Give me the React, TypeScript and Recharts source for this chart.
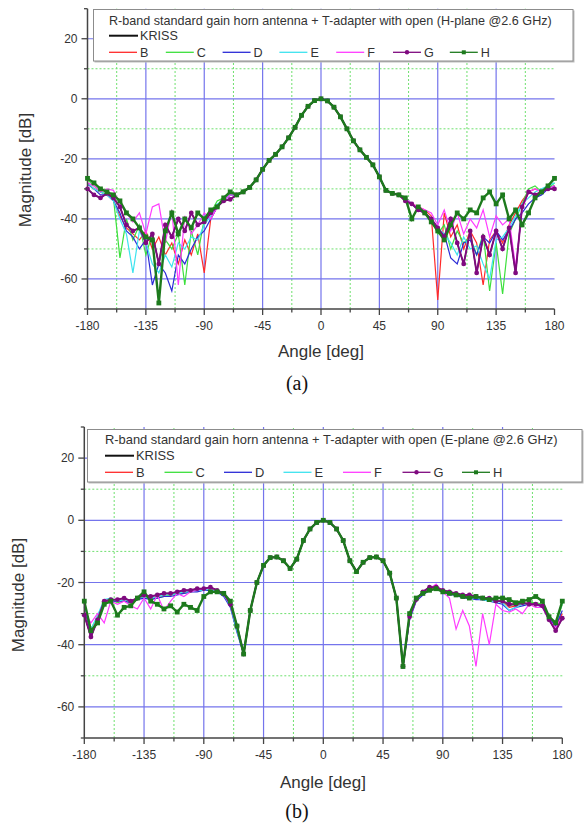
import React from 'react';
import { LineChart, Line, XAxis, YAxis, ReferenceLine } from 'recharts';

// angle axis, 5 degree steps
const angles = [
  -180, -175, -170, -165, -160, -155, -150, -145, -140, -135, -130, -125, -120, -115, -110, -105, -100, -95, -90,
  -85, -80, -75, -70, -65, -60, -55, -50, -45, -40, -35, -30, -25, -20, -15, -10, -5, 0, 5, 10, 15, 20, 25, 30,
  35, 40, 45, 50, 55, 60, 65, 70, 75, 80, 85, 90, 95, 100, 105, 110, 115, 120, 125, 130, 135, 140, 145, 150, 155,
  160, 165, 170, 175, 180,
];

const seriesNames = ['KRISS', 'B', 'C', 'D', 'E', 'F', 'G', 'H'];
const seriesColors = ['#000000', '#ff2a2a', '#3ce03c', '#2b2bd6', '#3ee3ef', '#ff3cff', '#7f0a7f', '#1d7a1d'];

const xTicks = [-180, -157.5, -135, -112.5, -90, -67.5, -45, -22.5, 0, 22.5, 45, 67.5, 90, 112.5, 135, 157.5, 180];
const yTicks = [-70, -60, -50, -40, -30, -20, -10, 0, 10, 20, 30];

// ---- (a) H-plane ----
// main lobe, -55..55 (all measurements overlap here)
const hMain = [-29.5, -27, -23.5, -20.5, -18.5, -16, -13, -9.5, -5.5, -2.5, -0.6, 0, -0.7, -2.8, -6, -10, -14, -17, -19.5, -22, -26, -30.5, -31.5];
// -180..-60
const hKrissLeft = [-30, -32, -33, -31.5, -33, -36, -42, -44, -43, -48, -45, -55, -42, -46, -40, -44, -38, -42, -41, -38, -36, -34, -33.5, -32, -31];
const hBLeft = [-28, -30, -31, -32, -34, -39, -43, -45, -47, -44, -50, -46, -52, -48, -55, -47, -52, -45, -58, -40, -36, -34, -32, -32, -31];
const hCLeft = [-27, -29, -31, -32, -33, -53, -40, -47, -42, -52, -45, -55, -47, -50, -45, -62, -44, -52, -40, -38, -34, -33, -31.5, -32, -30.5];
const hDLeft = [-28.5, -30, -32, -32, -34, -38, -44, -46, -50, -47, -62, -55, -58, -64, -52, -55, -50, -46, -44, -40, -36, -34, -32, -32, -31];
const hELeft = [-28, -30, -31, -32, -34, -40, -45, -58, -44, -48, -55, -58, -52, -56, -48, -50, -46, -47, -42, -39, -35, -34, -32, -32, -31];
const hFLeft = [-28, -29, -31, -30, -30.5, -35, -38, -41, -38, -45, -36, -35, -48, -37, -62, -39, -45, -42, -38, -40, -36, -34, -32, -32, -31];
const hGLeft = [-30, -32, -33, -31.5, -33, -36, -42, -44, -43, -48, -45, -55, -42, -46, -40, -44, -38, -42, -41, -38, -36, -34, -33.5, -32, -31];
const hHLeft = [-26.5, -28, -30, -31, -32, -34, -38, -40, -43, -46, -47, -68, -44, -38, -45, -40, -43, -38, -40, -37, -36, -33, -31, -32, -31];
// 60..180
const hKrissRight = [-32, -34, -35, -37, -38, -40, -43, -46, -40, -48, -55, -44, -58, -46, -52, -44, -50, -43, -58, -36, -31, -32, -31, -30, -30];
const hBRight = [-32, -33, -35, -36, -37, -39, -67, -38, -46, -42, -50, -44, -48, -62, -47, -44, -48, -42, -38, -34, -31, -30, -31, -30, -29];
const hCRight = [-32, -33, -35, -37, -38, -40, -45, -42, -50, -44, -48, -46, -52, -45, -64, -48, -65, -45, -40, -35, -30, -29, -31, -30, -28];
const hDRight = [-32, -33, -35, -37, -38, -40, -44, -45, -53, -55, -48, -47, -52, -46, -48, -44, -47, -44, -40, -38, -35, -33, -32, -30, -29];
const hERight = [-32, -33, -35, -37, -38, -40, -43, -45, -48, -52, -46, -50, -49, -55, -60, -47, -46, -43, -39, -35, -33, -31, -30, -29, -28];
const hFRight = [-32, -33, -35, -36, -37, -38, -42, -37, -44, -38, -45, -40, -43, -37, -46, -39, -42, -40, -56, -37, -31, -30, -31, -30, -29];
const hGRight = [-32, -34, -35, -37, -38, -40, -43, -46, -40, -48, -55, -44, -58, -46, -52, -44, -50, -43, -58, -36, -31, -32, -31, -30, -30];
const hHRight = [-32, -33, -40, -36, -38, -41, -44, -47, -42, -38, -40, -37, -38, -33, -31, -35, -32, -40, -37, -42, -38, -33, -31, -29, -26.5];

// ---- (b) E-plane ----
// main lobe + first sidelobes, -60..60
const eMain = [-43, -29, -20, -14.5, -12, -11.8, -13, -15.5, -12.5, -6.5, -2.8, -0.7, 0, -0.7, -2.8, -6.5, -13, -16.5, -13.5, -12, -11.8, -13, -17, -25, -47];
// -180..-65
const eKrissLeft = [-30.5, -37.5, -32, -26, -25.5, -25.5, -25, -26, -25, -24, -24.5, -24, -23.5, -23.5, -23, -22.5, -22.5, -22, -22, -21.5, -22.5, -23.5, -27, -34];
const eBLeft = [-29, -36, -31, -26.5, -25.5, -26, -25.5, -26, -25, -24.5, -25, -24.5, -24, -24, -23.5, -23, -23, -22.5, -22.5, -22, -23, -24, -27.5, -35];
const eCLeft = [-27, -35, -31, -26, -25.5, -26.5, -26, -26.5, -25.5, -24.5, -25, -25, -24.5, -24, -23.5, -23.5, -23, -22.5, -22.5, -22, -22.5, -24, -27, -34.5];
const eDLeft = [-28, -36.5, -32, -27, -26, -26, -26, -26.5, -25.5, -25, -25.5, -25, -24.5, -24.5, -24, -23.5, -23, -23, -22.5, -22.5, -23, -24.5, -28, -36];
const eELeft = [-27.5, -35, -30.5, -25.5, -25, -26, -25.5, -26, -25, -24.5, -25, -24.5, -24, -24, -23.5, -23, -23, -22.5, -22.5, -22, -23, -24, -27.5, -35.5];
const eFLeft = [-29, -33, -30, -33, -26, -27, -26, -27.5, -28.5, -25, -28.5, -24, -29, -26, -23.5, -24.5, -23, -22.5, -22, -22, -22.5, -24, -27, -34];
const eGLeft = [-30.5, -37.5, -32, -26, -25.5, -25.5, -25, -26, -25, -24, -24.5, -24, -23.5, -23.5, -23, -22.5, -22.5, -22, -22, -21.5, -22.5, -23.5, -27, -34];
const eHLeft = [-26, -35.5, -33, -27, -26, -30.5, -28, -27.5, -25, -23, -26, -27, -28.5, -27.5, -29.5, -27, -28, -29, -24.5, -23, -23, -23.5, -26, -34];
// 65..180
const eKrissRight = [-31, -25.5, -23, -21.5, -21.5, -22.5, -23, -23.5, -24, -24, -24.5, -25, -25, -26, -26, -27, -27, -26.5, -27, -27, -27.5, -32, -35.5, -31.5];
const eBRight = [-31, -25.5, -23.5, -22, -22, -23, -23.5, -24, -24.5, -24.5, -25, -25, -25.5, -26, -26, -28, -27.5, -27, -26.5, -27, -27.5, -31, -34, -30];
const eCRight = [-30.5, -25, -23.5, -22.5, -22, -23, -23.5, -24, -24.5, -25, -25, -25.5, -25.5, -26, -26, -27.5, -27, -27, -26.5, -26.5, -27, -31, -33.5, -27];
const eDRight = [-32, -26, -24, -22.5, -22, -23, -24, -24, -25, -25, -25.5, -25.5, -26, -26.5, -27, -29, -28, -27.5, -27, -27, -28, -31.5, -34, -29];
const eERight = [-31.5, -25.5, -23.5, -22.5, -22, -23, -23.5, -24, -24.5, -25, -25, -25.5, -26, -26, -26.5, -29, -28, -27, -27, -27, -27.5, -31, -33, -26.5];
const eFRight = [-31, -25.5, -23.5, -22, -20.5, -23, -25, -35, -29, -34, -47, -30, -40, -27, -29, -29.5, -28.5, -30, -27, -28, -28, -32, -34.5, -31];
const eGRight = [-31, -25.5, -23, -21.5, -21.5, -22.5, -23, -23.5, -24, -24, -24.5, -25, -25, -26, -26, -27, -27, -26.5, -27, -27, -27.5, -32, -35.5, -31.5];
const eHRight = [-30, -25, -23.5, -22.5, -22, -23, -23.5, -24, -24.5, -25, -24.5, -25, -25.5, -25, -25, -25.5, -26.5, -26, -25.5, -24.5, -26, -31, -33, -26];

const buildRows = (main: number[], sides: number[][][]) => {
  const full = sides.map(([l, r]) => [...l, ...main, ...r]);
  return angles.map((a, i) => {
    const row: Record<string, number> = { angle: a };
    seriesNames.forEach((n, s) => { row[n] = full[s][i]; });
    return row;
  });
};

const hRows = buildRows(hMain, [
  [hKrissLeft, hKrissRight], [hBLeft, hBRight], [hCLeft, hCRight], [hDLeft, hDRight],
  [hELeft, hERight], [hFLeft, hFRight], [hGLeft, hGRight], [hHLeft, hHRight],
]);
const eRows = buildRows(eMain, [
  [eKrissLeft, eKrissRight], [eBLeft, eBRight], [eCLeft, eCRight], [eDLeft, eDRight],
  [eELeft, eERight], [eFLeft, eFRight], [eGLeft, eGRight], [eHLeft, eHRight],
]);

const SANS = '"Liberation Sans", Arial, sans-serif';
const AXIS = '#444';
const BLUE = '#7474ec';
const GREEN = '#6ee06e';

const squareDot = (p: any) => (
  <rect key={`sq-${p.index}`} x={p.cx - 2.4} y={p.cy - 2.4} width={4.8} height={4.8} fill="#1d7a1d" />
);

const Panel = ({ rows, cfg }: { rows: any[]; cfg: any }) => {
  const yAxisW = 60;
  const xAxisH = 30;
  const localBottom = cfg.plotBottom - cfg.chartTop;
  const margin = {
    top: cfg.plotTop - cfg.chartTop,
    left: cfg.plotLeft - yAxisW,
    right: 584 - cfg.plotRight,
    bottom: cfg.chartHeight - localBottom - xAxisH,
  };
  const plotLeft = cfg.plotLeft;

  const XTick = (props: any) => {
    const { x, payload } = props;
    const v = payload.value;
    const major = v % 45 === 0;
    return (
      <g>
        <line x1={x} x2={x} y1={localBottom} y2={localBottom + (major ? 6 : 3.5)} stroke={AXIS} strokeWidth={1.3} />
        {major && (
          <text x={x} y={localBottom + 21} textAnchor="middle" fontSize={12} fill="#333" fontFamily={SANS}>{v}</text>
        )}
      </g>
    );
  };
  const YTick = (props: any) => {
    const { y, payload } = props;
    const v = payload.value;
    const major = v % 20 === 0;
    return (
      <g>
        <line x1={plotLeft - (major ? 6 : 3.5)} x2={plotLeft} y1={y} y2={y} stroke={AXIS} strokeWidth={1.3} />
        {major && (
          <text x={plotLeft - 10} y={y + 4} textAnchor="end" fontSize={12} fill="#333" fontFamily={SANS}>{v}</text>
        )}
      </g>
    );
  };

  const lg = cfg.legend;
  return (
    <>
      <div style={{ position: 'absolute', left: 0, top: cfg.chartTop }}>
        <LineChart width={584} height={cfg.chartHeight} data={rows} margin={margin}>
          {[-157.5, -112.5, -67.5, -22.5, 22.5, 67.5, 112.5, 157.5].map((v) => (
            <ReferenceLine key={`mx${v}`} x={v} stroke={GREEN} strokeDasharray="2 2" strokeWidth={1} />
          ))}
          {[10, -10, -30, -50].map((v) => (
            <ReferenceLine key={`my${v}`} y={v} stroke={GREEN} strokeDasharray="2 2" strokeWidth={1} />
          ))}
          {[-135, -90, -45, 0, 45, 90, 135].map((v) => (
            <ReferenceLine key={`gx${v}`} x={v} stroke={BLUE} strokeWidth={1.2} />
          ))}
          {[20, 0, -20, -40, -60].map((v) => (
            <ReferenceLine key={`gy${v}`} y={v} stroke={BLUE} strokeWidth={1.2} />
          ))}
          <XAxis
            dataKey="angle"
            type="number"
            domain={[-180, 180]}
            ticks={xTicks}
            interval={0}
            height={xAxisH}
            tickLine={false}
            axisLine={{ stroke: AXIS, strokeWidth: 1.5 }}
            tick={<XTick />}
          />
          <YAxis
            type="number"
            domain={[-70, 30]}
            ticks={yTicks}
            interval={0}
            width={yAxisW}
            tickLine={false}
            axisLine={{ stroke: AXIS, strokeWidth: 1.5 }}
            tick={<YTick />}
          />
          {seriesNames.map((n, i) => (
            <Line
              key={n}
              dataKey={n}
              type="linear"
              stroke={seriesColors[i]}
              strokeWidth={n === 'H' ? 2.4 : n === 'G' ? 1.9 : 1.2}
              dot={n === 'G' ? { r: 2.4, fill: seriesColors[i], stroke: 'none' } : n === 'H' ? squareDot : false}
              isAnimationActive={false}
            />
          ))}
        </LineChart>
      </div>
      <svg
        style={{ position: 'absolute', left: lg.x, top: lg.y, overflow: 'visible' }}
        width={lg.w}
        height={lg.h}
      >
        <rect x={1.5} y={1.5} width={lg.w - 1} height={lg.h - 1} fill="#bdbdbd" />
        <rect x={0.5} y={0.5} width={lg.w - 1.5} height={lg.h - 1.5} fill="#fff" stroke="#8c8c8c" strokeWidth={1} />
        <text x={lg.textX - lg.x} y={lg.titleY - lg.y + 4.5} fontSize={lg.fontSize} fill="#333" fontFamily={SANS}>
          {cfg.title}
        </text>
        <line x1={lg.textX - lg.x} x2={lg.textX - lg.x + 29} y1={lg.krissY - lg.y} y2={lg.krissY - lg.y} stroke="#111" strokeWidth={2} />
        <text x={lg.textX - lg.x + 31} y={lg.krissY - lg.y + 4.5} fontSize={lg.fontSize} fill="#333" fontFamily={SANS}>
          KRISS
        </text>
        {seriesNames.slice(1).map((n, k) => {
          const i = k + 1;
          const x0 = lg.textX - lg.x + k * lg.step;
          const y0 = lg.rowY - lg.y;
          return (
            <g key={n}>
              <line x1={x0} x2={x0 + 28} y1={y0} y2={y0} stroke={seriesColors[i]} strokeWidth={1.3} />
              {n === 'G' && <circle cx={x0 + 14} cy={y0} r={2.2} fill={seriesColors[i]} />}
              {n === 'H' && <rect x={x0 + 12} y={y0 - 2} width={4} height={4} fill={seriesColors[i]} />}
              <text x={x0 + 31} y={y0 + 4.5} fontSize={lg.fontSize} fill="#333" fontFamily={SANS}>{n}</text>
            </g>
          );
        })}
      </svg>
      <div
        style={{
          position: 'absolute', left: cfg.yTitleX - 80, top: cfg.yTitleY - 12, width: 160, height: 24,
          lineHeight: '24px', textAlign: 'center', transform: 'rotate(-90deg)', fontFamily: SANS,
          fontSize: 17, color: '#333', whiteSpace: 'nowrap',
        }}
      >
        Magnitude [dB]
      </div>
      <div
        style={{
          position: 'absolute', left: cfg.zeroX - 80, top: cfg.xTitleY - 12, width: 160, height: 24,
          lineHeight: '24px', textAlign: 'center', fontFamily: SANS, fontSize: 17, color: '#333',
        }}
      >
        Angle [deg]
      </div>
      <div
        style={{
          position: 'absolute', left: cfg.captionX - 40, top: cfg.captionY - 14, width: 80, height: 28,
          lineHeight: '28px', textAlign: 'center', fontFamily: '"Liberation Serif", "DejaVu Serif", serif',
          fontSize: 20, color: '#111',
        }}
      >
        {cfg.caption}
      </div>
    </>
  );
};

const panelA = {
  chartTop: 0, chartHeight: 345, plotLeft: 87.5, plotRight: 554.5, plotTop: 8.7, plotBottom: 309,
  legend: { x: 93, y: 9, w: 481, h: 53, textX: 109, titleY: 20, krissY: 35.7, rowY: 52.3, step: 56.8, fontSize: 12.6 },
  title: 'R-band standard gain horn antenna + T-adapter with open (H-plane @2.6 GHz)',
  yTitleX: 26, yTitleY: 170, zeroX: 321, xTitleY: 352, captionX: 297, captionY: 383, caption: '(a)',
};

const panelB = {
  chartTop: 415, chartHeight: 360, plotLeft: 84.3, plotRight: 562.3, plotTop: 427, plotBottom: 738,
  legend: { x: 87, y: 429, w: 496, h: 54, textX: 105, titleY: 439, krissY: 455.7, rowY: 472.3, step: 59.5, fontSize: 12.9 },
  title: 'R-band standard gain horn antenna + T-adapter with open (E-plane @2.6 GHz)',
  yTitleX: 19, yTitleY: 595, zeroX: 323, xTitleY: 783, captionX: 297, captionY: 811, caption: '(b)',
};

export default function App() {
  return (
    <div style={{ position: 'relative', width: 584, height: 825, background: '#fff', overflow: 'hidden' }}>
      <style>{'body{margin:0;background:#fff}'}</style>
      <Panel rows={hRows} cfg={panelA} />
      <Panel rows={eRows} cfg={panelB} />
    </div>
  );
}
